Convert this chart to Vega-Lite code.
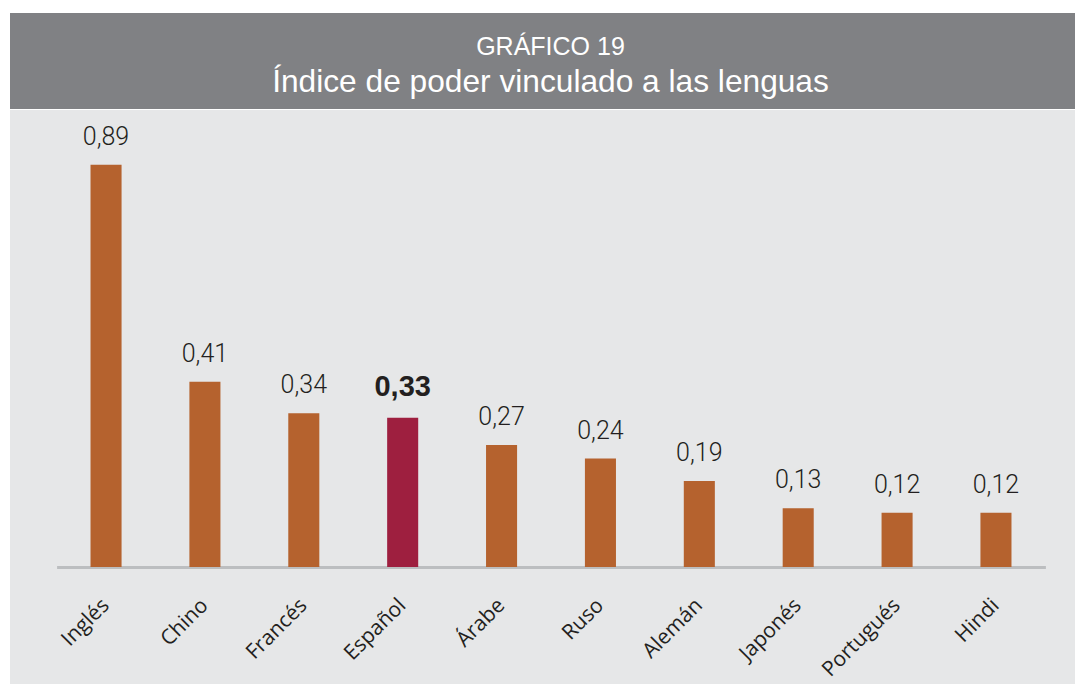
{
  "$schema": "https://vega.github.io/schema/vega-lite/v6.json",
  "background": "#ffffff",
  "padding": {"left": 10, "top": 13, "right": 0, "bottom": 0},
  "spacing": 1,
  "bounds": "flush",
  "config": {
    "locale": {"number": {"decimal": ",", "thousands": ".", "grouping": [3], "currency": ["", " €"]}},
    "axis": {"grid": false}
  },
  "datasets": {
    "lenguas": [
      {"lengua": "Inglés", "indice": 0.89},
      {"lengua": "Chino", "indice": 0.41},
      {"lengua": "Francés", "indice": 0.34},
      {"lengua": "Español", "indice": 0.33},
      {"lengua": "Árabe", "indice": 0.27},
      {"lengua": "Ruso", "indice": 0.24},
      {"lengua": "Alemán", "indice": 0.19},
      {"lengua": "Japonés", "indice": 0.13},
      {"lengua": "Portugués", "indice": 0.12},
      {"lengua": "Hindi", "indice": 0.12}
    ]
  },
  "vconcat": [
    {
      "width": 1065,
      "height": 96,
      "view": {"fill": "#808184", "stroke": null},
      "title": {
        "text": "GRÁFICO 19",
        "subtitle": "Índice de poder vinculado a las lenguas",
        "anchor": "middle",
        "orient": "top",
        "offset": -86,
        "dx": 8,
        "font": "Liberation Sans",
        "fontSize": 25,
        "fontWeight": "normal",
        "color": "#ffffff",
        "subtitleFont": "Liberation Sans",
        "subtitleFontSize": 31.7,
        "subtitleColor": "#ffffff",
        "subtitlePadding": 7
      },
      "data": {"values": [{}]},
      "mark": {"type": "text", "text": ""},
      "encoding": {}
    },
    {
      "width": 1065,
      "height": 574,
      "view": {"fill": "#e6e7e8", "stroke": null},
      "data": {"name": "lenguas"},
      "encoding": {
        "x": {
          "field": "lengua",
          "type": "nominal",
          "sort": null,
          "scale": {"range": [46.6, 1035.4], "paddingInner": 0.686, "paddingOuter": 0.343},
          "axis": {
            "title": null,
            "offset": -117,
            "domainColor": "#bcbec0",
            "domainWidth": 3,
            "ticks": false,
            "labelAngle": -45,
            "labelAlign": "right",
            "labelBaseline": "middle",
            "labelPadding": 35,
            "labelOffset": 0,
            "labelFont": "Open Sans",
            "labelFontSize": 21,
            "labelColor": "#231f20"
          }
        },
        "y": {
          "field": "indice",
          "type": "quantitative",
          "scale": {"domain": [0, 1], "range": [457, 5]},
          "axis": null
        }
      },
      "layer": [
        {
          "mark": {"type": "bar"},
          "encoding": {
            "color": {
              "condition": {"test": "datum.lengua === 'Español'", "value": "#9e1f3f"},
              "value": "#b5622e"
            }
          }
        },
        {
          "transform": [{"filter": "datum.lengua !== 'Español'"}],
          "mark": {"type": "text", "baseline": "alphabetic", "dy": -20, "font": "Roboto", "fontWeight": 300, "fontSize": 25, "color": "#231f20"},
          "encoding": {"text": {"field": "indice", "type": "quantitative", "format": ".2f"}}
        },
        {
          "transform": [{"filter": "datum.lengua === 'Español'"}],
          "mark": {"type": "text", "baseline": "alphabetic", "dy": -22, "font": "Liberation Sans", "fontWeight": "bold", "fontSize": 29, "color": "#231f20"},
          "encoding": {"text": {"field": "indice", "type": "quantitative", "format": ".2f"}}
        }
      ]
    }
  ]
}
